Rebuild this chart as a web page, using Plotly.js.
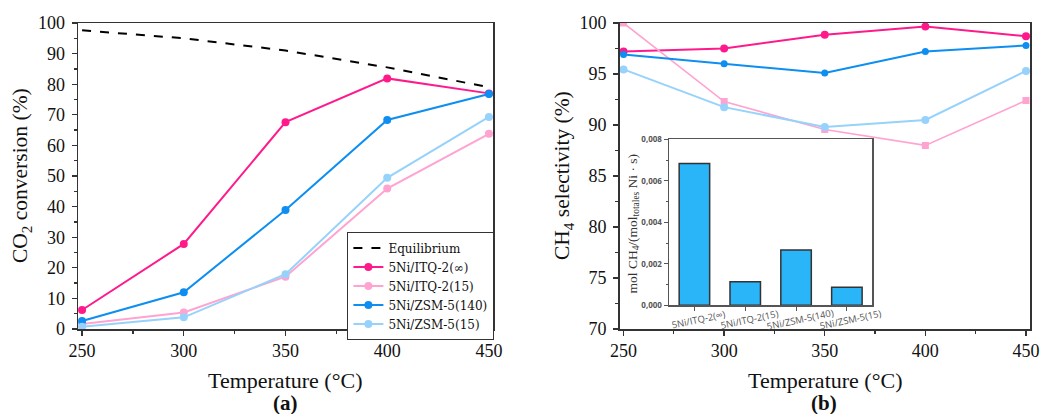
<!DOCTYPE html>
<html>
<head>
<meta charset="utf-8">
<script src="https://cdn.plot.ly/plotly-3.0.1.min.js"></script>
<style>html,body{margin:0;padding:0;background:#fff;}#chart{width:1048px;height:414px;}</style>
</head>
<body>
<div id="chart"></div>
<script>
// ---- data ----
const temps = [250, 300, 350, 400, 450];
const eqConv = [97.6, 95.0, 91.0, 85.5, 79.0];
const itq2InfConv = [6.2, 27.8, 67.6, 81.9, 77.0];
const itq215Conv = [1.6, 5.4, 17.1, 45.9, 63.8];
const zsm140Conv = [2.6, 12.0, 38.9, 68.3, 76.8];
const zsm15Conv = [0.7, 3.8, 17.9, 49.4, 69.3];

const itq2InfSel = [97.2, 97.5, 98.85, 99.65, 98.7];
const itq215Sel = [100.0, 92.3, 89.55, 88.0, 92.4];
const zsm140Sel = [96.9, 96.0, 95.1, 97.2, 97.8];
const zsm15Sel = [95.45, 91.75, 89.8, 90.5, 95.3];

const catalysts = ['5Ni/ITQ-2(∞)', '5Ni/ITQ-2(15)', '5Ni/ZSM-5(140)', '5Ni/ZSM-5(15)'];
const rates = [0.00683, 0.00114, 0.00267, 0.00087];

const seriesNames = ['Equilibrium', '5Ni/ITQ-2(∞)', '5Ni/ITQ-2(15)', '5Ni/ZSM-5(140)', '5Ni/ZSM-5(15)'];
const xTicks = [250, 300, 350, 400, 450];

// ---- styles ----
const C_PINK = '#ff1a8c', C_LPINK = '#ffa3d1', C_BLUE = '#0d8ef0', C_LBLUE = '#96d2fb';
const SERIF = 'Liberation Serif, DejaVu Serif, serif';
const W = 1048, H = 414;
const px = v => v / W, py = v => 1 - v / H;

function lineTrace(x, y, name, color, xa, ya, show, sym, size, lw) {
  return {x: x, y: y, name: name, type: 'scatter', mode: 'lines+markers',
    xaxis: xa, yaxis: ya, showlegend: show,
    line: {color: color, width: lw || 2},
    marker: {color: color, size: size || 8, symbol: sym || 'circle'}};
}

const traces = [
  {x: temps, y: eqConv, name: seriesNames[0], type: 'scatter', mode: 'lines',
   line: {color: '#000', width: 2, dash: 'dash'}, xaxis: 'x', yaxis: 'y', showlegend: true},
  lineTrace(temps, itq2InfConv, seriesNames[1], C_PINK, 'x', 'y', true),
  lineTrace(temps, itq215Conv, seriesNames[2], C_LPINK, 'x', 'y', true),
  lineTrace(temps, zsm140Conv, seriesNames[3], C_BLUE, 'x', 'y', true),
  lineTrace(temps, zsm15Conv, seriesNames[4], C_LBLUE, 'x', 'y', true),

  lineTrace(temps, itq2InfSel, seriesNames[1], C_PINK, 'x2', 'y2', false, 'circle', 8, 2),
  lineTrace(temps, itq215Sel, seriesNames[2], C_LPINK, 'x2', 'y2', false, 'square', 7, 1.6),
  lineTrace(temps, zsm140Sel, seriesNames[3], C_BLUE, 'x2', 'y2', false, 'circle', 7, 2),
  lineTrace(temps, zsm15Sel, seriesNames[4], C_LBLUE, 'x2', 'y2', false, 'circle', 8, 2),

  {x: catalysts, y: rates, type: 'bar', xaxis: 'x3', yaxis: 'y3', showlegend: false,
   width: 0.6, marker: {color: '#29b5f8', line: {color: '#333', width: 1.5}}}
];

const axBase = {
  showline: true, mirror: true, linecolor: '#333', linewidth: 1.5,
  showgrid: false, zeroline: false, ticks: 'outside', ticklen: 5, tickwidth: 1.3,
  tickcolor: '#333', automargin: false,
  tickfont: {family: SERIF, size: 18, color: '#111'}
};

const layout = {
  width: W, height: H,
  margin: {l: 0, r: 0, t: 0, b: 0},
  paper_bgcolor: '#fff', plot_bgcolor: '#fff',
  separators: ',.',
  font: {family: SERIF, color: '#111'},
  xaxis: Object.assign({}, axBase, {domain: [px(78), px(493)], range: [248, 452], anchor: 'y',
    tickvals: xTicks, minor: {dtick: 25, tick0: 250, ticks: 'outside', ticklen: 3, tickcolor: '#333'}}),
  yaxis: Object.assign({}, axBase, {domain: [1 - 329 / H, 1 - 23 / H], range: [0, 100], anchor: 'x',
    dtick: 10, tick0: 0, ticklabelstandoff: 3, minor: {dtick: 5, ticks: 'outside', ticklen: 3, tickcolor: '#333'}}),
  xaxis2: Object.assign({}, axBase, {domain: [px(619.5), px(1030)], range: [248, 452], anchor: 'y2',
    tickvals: xTicks, minor: {dtick: 25, tick0: 250, ticks: 'outside', ticklen: 3, tickcolor: '#333'}}),
  yaxis2: Object.assign({}, axBase, {domain: [1 - 329 / H, 1 - 23 / H], range: [70, 100], anchor: 'x2',
    dtick: 5, tick0: 70, ticklabelstandoff: 3, minor: {dtick: 2.5, ticks: 'outside', ticklen: 3, tickcolor: '#333'}}),
  xaxis3: {domain: [px(669), px(872.3)], anchor: 'y3', type: 'category', range: [-0.5, 3.5],
    showline: true, mirror: true, linecolor: '#555', linewidth: 1.5, showgrid: false, zeroline: false,
    ticks: 'outside', ticklen: 4, tickcolor: '#555', showticklabels: false, automargin: false},
  yaxis3: {domain: [1 - 305.3 / H, 1 - 139.3 / H], anchor: 'x3', range: [0, 0.008],
    dtick: 0.002, tick0: 0, tickformat: '.3f',
    showline: true, mirror: true, linecolor: '#555', linewidth: 1.5, showgrid: false, zeroline: false,
    ticks: 'outside', ticklen: 4, tickcolor: '#555', automargin: false,
    minor: {dtick: 0.001, ticks: 'outside', ticklen: 2, tickcolor: '#555'},
    tickfont: {family: 'Open Sans, sans-serif', size: 8, color: '#555', weight: 'bold'}},
  legend: {x: px(347), y: py(232), xanchor: 'left', yanchor: 'top',
    bgcolor: '#fff', bordercolor: '#333', borderwidth: 1.4,
    font: {family: 'DejaVu Serif, serif', size: 12, color: '#111'}, itemwidth: 30, tracegroupgap: 0},
  annotations: []
};

const ann = layout.annotations;
function A(text, x, y, size, extra) {
  ann.push(Object.assign({text: text, x: px(x), y: py(y), xref: 'paper', yref: 'paper',
    showarrow: false, xanchor: 'center', yanchor: 'middle',
    font: {family: SERIF, size: size, color: '#111'}}, extra || {}));
}
A('Temperature (°C)', 285, 380, 22);
A('<b>(a)</b>', 285, 403, 21);
A('Temperature (°C)', 825, 380, 22);
A('<b>(b)</b>', 824, 403, 21);
A('CO<sub>2</sub> conversion (%)', 21, 176, 21.5, {textangle: -90});
A('CH<sub>4</sub> selectivity (%)', 563, 176, 21.5, {textangle: -90});
A('mol CH<sub>4</sub>/(mol<sub>totales</sub> Ni · s)', 633, 223.5, 13.5, {textangle: -90, font: {family: SERIF, size: 13.5, color: '#333'}});

catalysts.forEach(function (c) {
  ann.push({text: c, x: c, xref: 'x3', y: py(319), yref: 'paper', xshift: 4,
    showarrow: false, xanchor: 'center', yanchor: 'middle', textangle: -12,
    font: {family: 'Open Sans, sans-serif', size: 9.5, color: '#555'}});
});

Plotly.newPlot('chart', traces, layout, {displayModeBar: false, staticPlot: true});
</script>
</body>
</html>
